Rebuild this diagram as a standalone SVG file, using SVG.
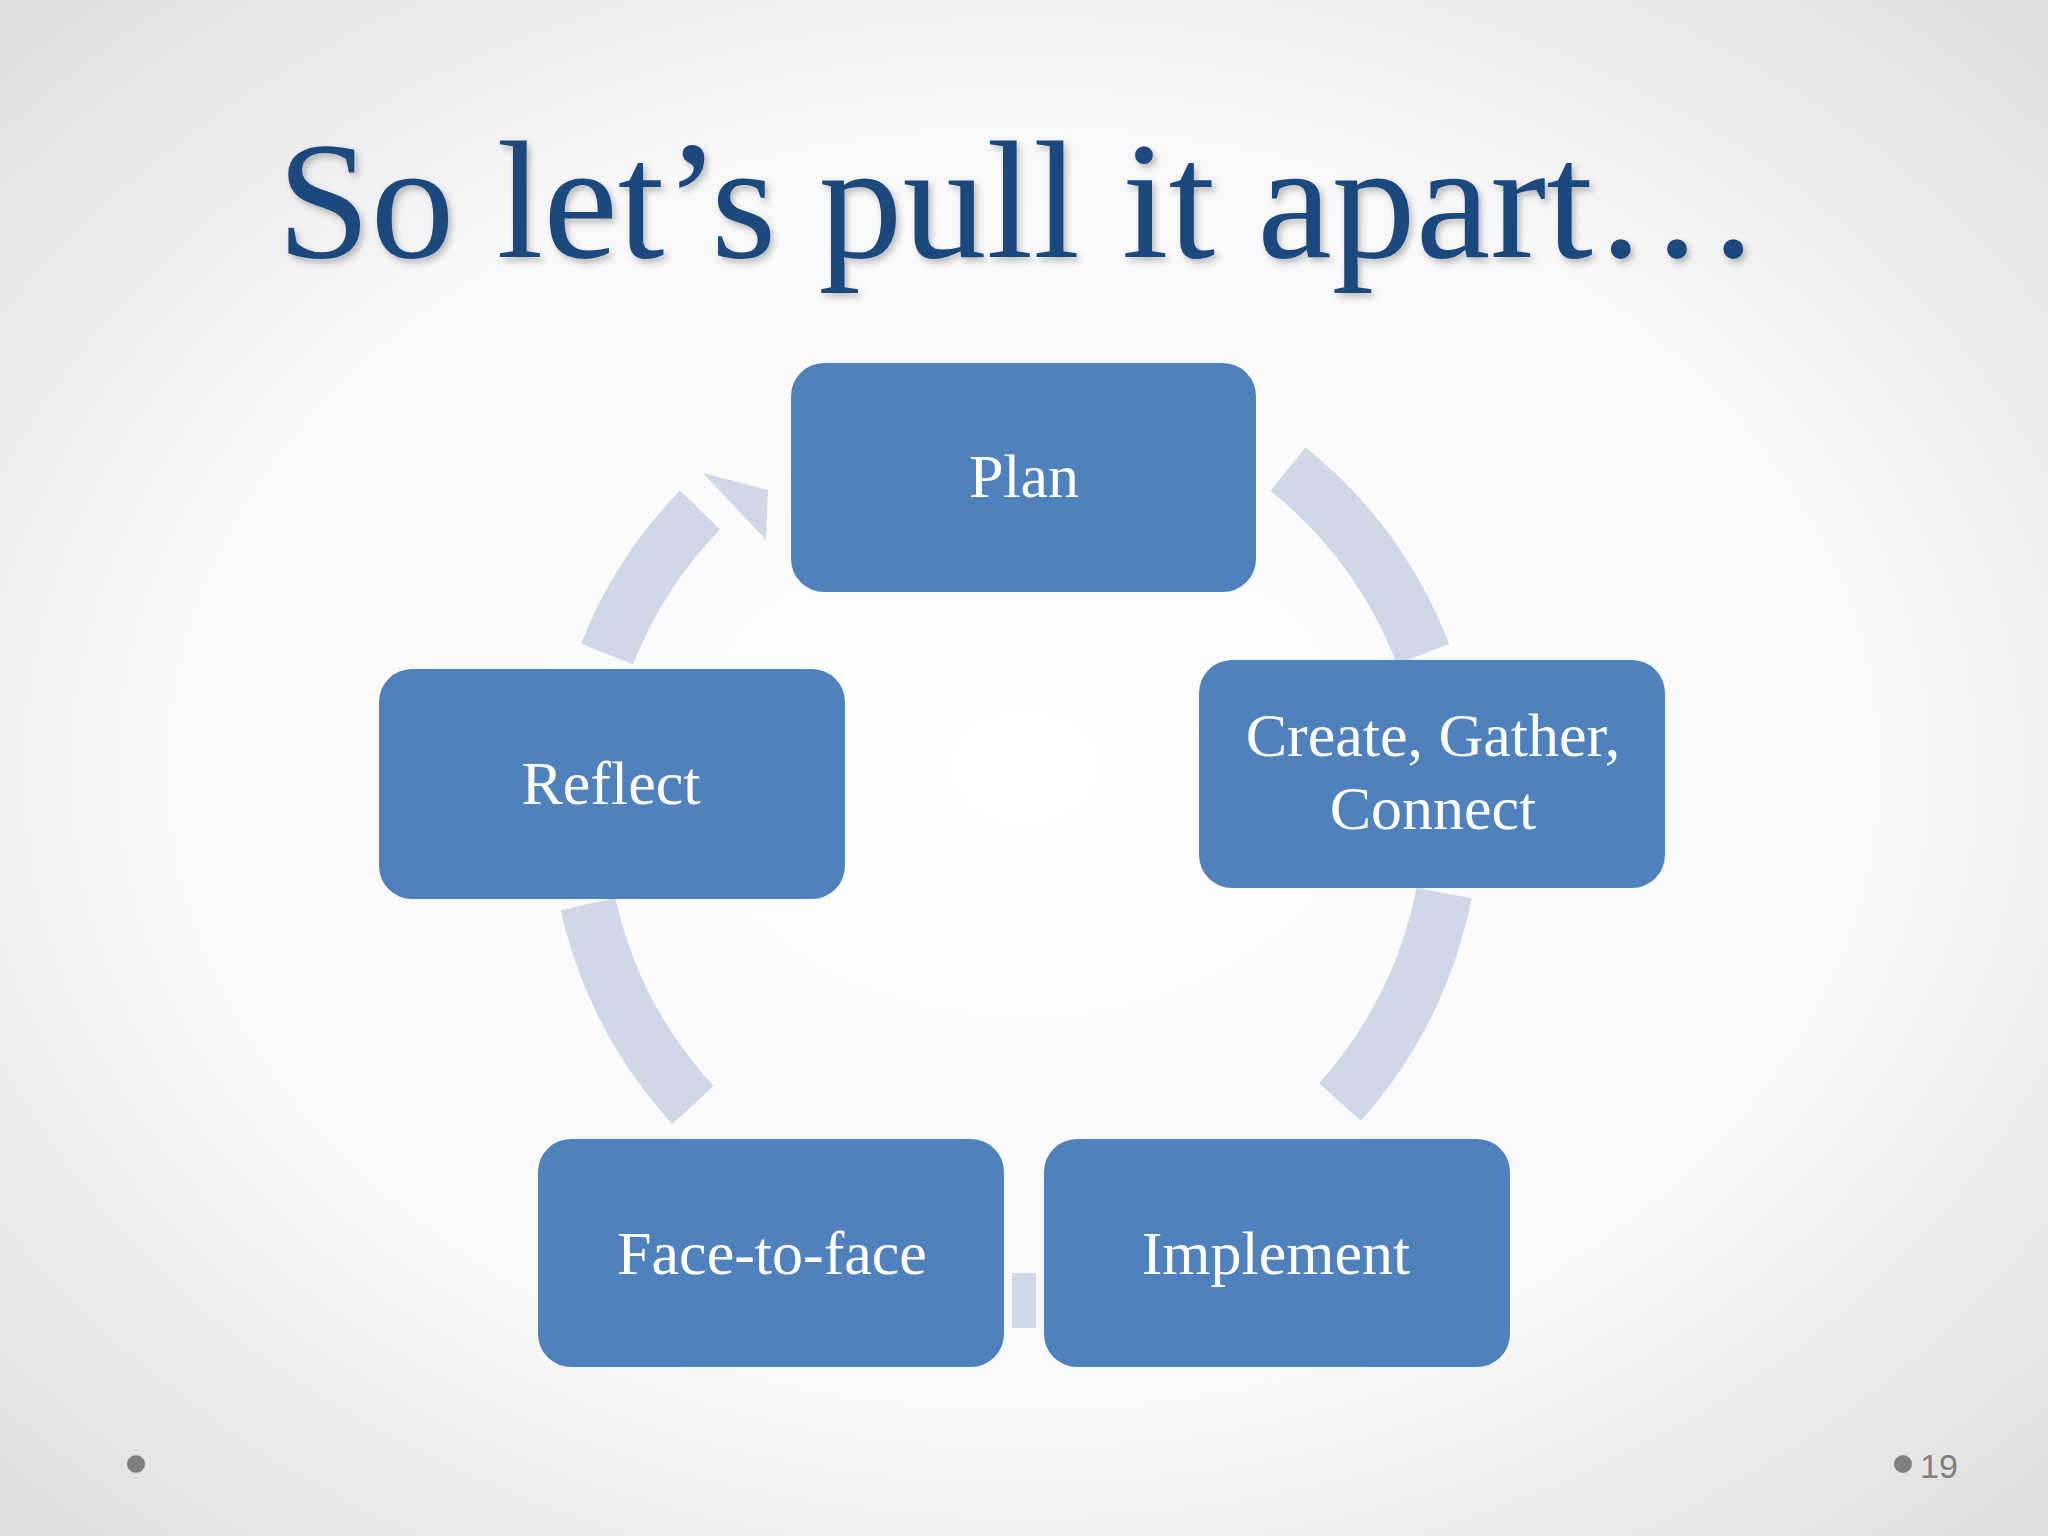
<svg xmlns="http://www.w3.org/2000/svg" width="2048" height="1536" viewBox="0 0 2048 1536">
<defs>
<radialGradient id="bg" cx="50%" cy="50%" r="70%">
<stop offset="0" stop-color="#ffffff"/><stop offset="0.6" stop-color="#f8f8f8"/><stop offset="1" stop-color="#dedede"/>
</radialGradient>
<filter id="sh" x="-5%" y="-5%" width="110%" height="120%"><feDropShadow dx="3" dy="4" stdDeviation="3" flood-color="#000" flood-opacity="0.25"/></filter>
</defs>
<style>
.box{fill:#4f81bd;}
.lbl{font-family:"Liberation Serif",serif;font-size:62px;fill:#ffffff;text-anchor:middle;}
.arc{fill:none;stroke:#d0d8e8;stroke-width:56;}
</style>
<rect width="2048" height="1536" fill="url(#bg)"/>
<text x="1019" y="257" font-family="Liberation Serif,serif" font-size="168" fill="#1f497d" text-anchor="middle" filter="url(#sh)">So let’s pull it apart…</text>
<g id="connectors">
<path class="arc" d="M1288,469 A437,437 0 0 1 1423,654"/>
<path class="arc" d="M1444,893 A437,437 0 0 1 1340,1102"/>
<rect x="1012" y="1273" width="24" height="55" fill="#d0d8e8"/>
<path class="arc" d="M693,1105 A437,437 0 0 1 588,904"/>
<path class="arc" d="M607,654 A437,437 0 0 1 700,510"/>
<polygon points="703,473 768,490 766,540" fill="#d0d8e8"/>
</g>
<g id="plan"><rect class="box" x="791" y="363" width="465" height="229" rx="33"/><text class="lbl" x="1024" y="497">Plan</text></g>
<g id="create"><rect class="box" x="1199" y="660" width="466" height="228" rx="33"/><text class="lbl" x="1433" y="756">Create, Gather,</text><text class="lbl" x="1433" y="829">Connect</text></g>
<g id="implement"><rect class="box" x="1044" y="1139" width="466" height="228" rx="33"/><text class="lbl" x="1276" y="1274">Implement</text></g>
<g id="face"><rect class="box" x="538" y="1139" width="466" height="228" rx="33"/><text class="lbl" x="772" y="1274">Face-to-face</text></g>
<g id="reflect"><rect class="box" x="379" y="669" width="466" height="230" rx="33"/><text class="lbl" x="611" y="804">Reflect</text></g>
<circle cx="136" cy="1464" r="9" fill="#7f7f7f"/>
<circle cx="1903" cy="1464" r="9" fill="#7f7f7f"/>
<text x="1920" y="1478" font-family="Liberation Sans,sans-serif" font-size="34" fill="#7f7f7f">19</text>
</svg>
